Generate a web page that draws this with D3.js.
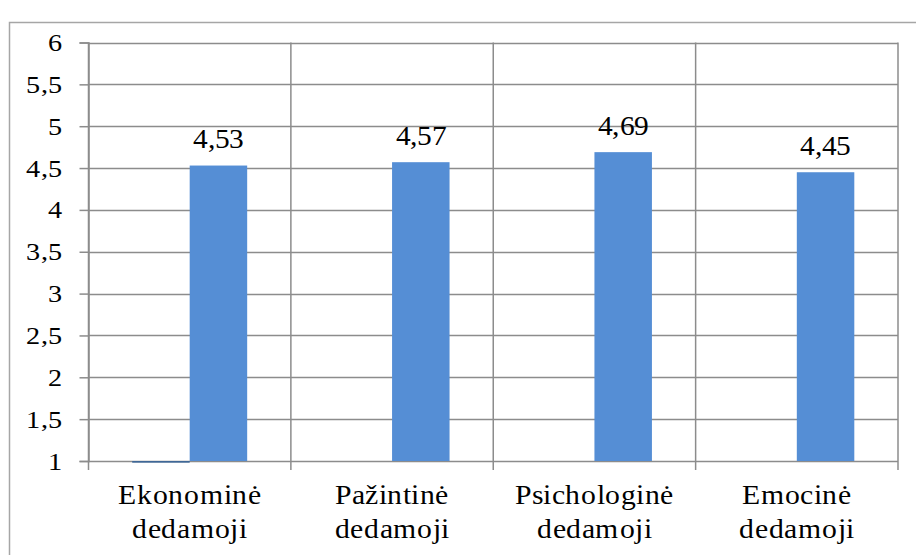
<!DOCTYPE html>
<html>
<head>
<meta charset="utf-8">
<script src="https://cdn.jsdelivr.net/npm/d3@7"></script>
<style>
  @font-face { font-family: "ChartSerif"; src: local("Liberation Serif"), local("LiberationSerif"), local("Tinos"); }
</style>
</head>
<body style="margin:0">
<div id="chart"></div>
<div id="fontwarm" style="position:absolute; left:-2000px; top:0; font-family:'Liberation Serif'; font-size:28px">Ekonominė 4,53</div>
<script>
// Category names (each split over two lines)
const categories = ["Ekonominė dedamoji", "Pažintinė dedamoji", "Psichologinė dedamoji", "Emocinė dedamoji"];
// Main series (labelled bars)
const mainValues = [4.53, 4.57, 4.69, 4.45];
// Secondary series, sitting at the axis minimum
const baseValues = [0.98, 1, 1, 1];
// Value-axis ticks
const yTicks = [1, 1.5, 2, 2.5, 3, 3.5, 4, 4.5, 5, 5.5, 6];

const FONT = "ChartSerif, 'Liberation Serif', Tinos, 'Times New Roman', serif";
const W = 916, H = 555;
const svg = d3.select("#chart").append("svg").attr("width", W).attr("height", H)
  .attr("font-family", FONT);

// Outer frame of the chart object
svg.append("rect")
  .attr("x", 9.5).attr("y", 22.5)
  .attr("width", 920).attr("height", 560)
  .attr("fill", "none").attr("stroke", "#a6a6a6").attr("stroke-width", 1.5);

const plot = { left: 88.5, right: 898, top: 42.5, bottom: 461 };

const x = d3.scaleBand().domain(categories).range([plot.left, plot.right]).padding(0);
const inner = d3.scaleBand().domain(["base", "main"]).range([0, x.bandwidth()])
  .paddingInner(0).paddingOuter(0.76);
const y = d3.scaleLinear().domain([1, 6]).range([plot.bottom, plot.top]);

const gridColor = "#8c8c8c";
const fmt = v => String(v).replace(".", ",");

// Horizontal gridlines
svg.append("g").selectAll("line").data(yTicks).join("line")
  .attr("x1", plot.left).attr("x2", plot.right)
  .attr("y1", d => Math.round(y(d)) + 0.5).attr("y2", d => Math.round(y(d)) + 0.5)
  .attr("stroke", gridColor).attr("stroke-width", 1.5);

// Vertical gridlines at category boundaries
const bounds = categories.map(c => x(c)).concat([plot.right]);
svg.append("g").selectAll("line").data(bounds).join("line")
  .attr("x1", d => d).attr("x2", d => d)
  .attr("y1", plot.top).attr("y2", plot.bottom + 9)
  .attr("stroke", gridColor).attr("stroke-width", 1.5);

// Y axis line and tick marks
const yAxis = svg.append("g")
  .attr("transform", `translate(${plot.left},0)`)
  .call(d3.axisLeft(y).tickValues(yTicks).tickSize(9).tickFormat(""));
yAxis.attr("font-family", null).attr("font-size", null).attr("text-anchor", null);
yAxis.selectAll(".tick text").remove();
yAxis.select(".domain").attr("stroke", gridColor).attr("stroke-width", 1.5);
yAxis.selectAll(".tick line").attr("stroke", gridColor).attr("stroke-width", 1.5);

// Writes a label anchored at (ax, ay), widened slightly along x
function label(str, ax, ay, anchor, size, stretch) {
  svg.append("g")
    .attr("transform", `translate(${ax},${ay}) scale(${stretch},1)`)
    .append("text")
    .attr("font-family", FONT)
    .attr("font-size", size)
    .attr("text-anchor", anchor)
    .attr("fill", "#000")
    .text(str);
}

// Y tick labels
yTicks.forEach(v => label(fmt(v), 63, y(v) + 8.5, "end", 25, 1.13));

// Bars
const g = svg.append("g");
g.selectAll("rect.base").data(categories).join("rect").attr("class", "base")
  .attr("x", (c) => x(c) + inner("base"))
  .attr("width", inner.bandwidth())
  .attr("y", (c, i) => Math.min(y(baseValues[i]), y(1)))
  .attr("height", (c, i) => Math.abs(y(baseValues[i]) - y(1)))
  .attr("fill", "#3f6797");

g.selectAll("rect.main").data(categories).join("rect").attr("class", "main")
  .attr("x", (c) => x(c) + inner("main"))
  .attr("width", inner.bandwidth())
  .attr("y", (c, i) => y(mainValues[i]))
  .attr("height", (c, i) => y(1) - y(mainValues[i]))
  .attr("fill", "#558ed5");

// Data labels
categories.forEach((c, i) => label(mainValues[i].toFixed(2).replace(".", ","),
  x(c) + inner("main") + inner.bandwidth() / 2, y(mainValues[i]) - 17.5, "middle", 27.5, 1.05));

// Category labels on two lines
categories.forEach(c => {
  c.split(" ").forEach((p, k) => label(p, x(c) + x.bandwidth() / 2, 504 + k * 33.5, "middle", 27.5, 1.1));
});
</script>
</body>
</html>
